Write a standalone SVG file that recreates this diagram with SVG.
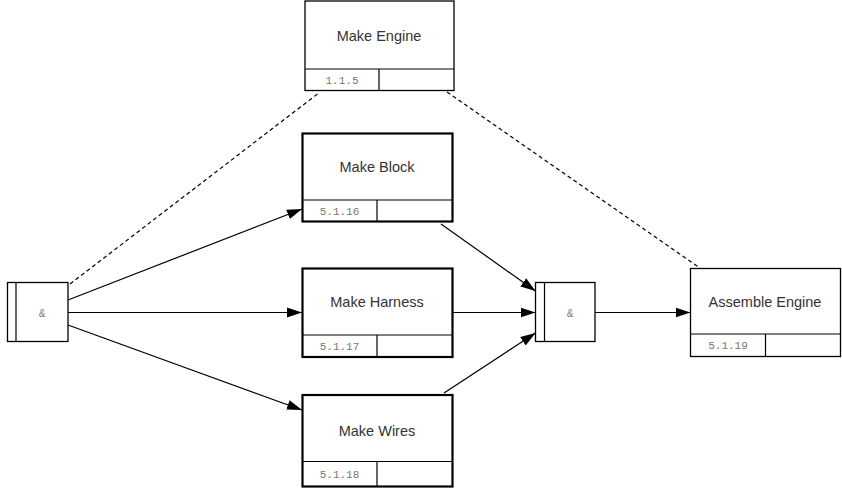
<svg xmlns="http://www.w3.org/2000/svg" width="842" height="488" viewBox="0 0 842 488">
<defs>
<marker id="arr" viewBox="0 0 15 12" refX="15" refY="6" markerWidth="15" markerHeight="12" markerUnits="userSpaceOnUse" orient="auto">
<path d="M0,1 L15,6 L0,11 Z" fill="#000"/>
</marker>
</defs>
<style>
.box{fill:#fff;stroke:#000;stroke-width:1.3}
.thick{stroke-width:2.2}
.lbl{font-family:"Liberation Sans",Arial,sans-serif;font-size:14.5px;fill:#333;text-anchor:middle}
.num{font-family:"Liberation Mono","Courier New",monospace;font-size:11px;fill:#777;text-anchor:middle}
.amp{font-family:"Liberation Sans",Arial,sans-serif;font-size:10px;fill:#777;text-anchor:middle}
.c{stroke:#000;stroke-width:1.2;fill:none}
.d{stroke:#000;stroke-width:1.2;fill:none;stroke-dasharray:4 3}
</style>
<rect width="842" height="488" fill="#fff"/>
<g id="connectors">
<line class="d" x1="70" y1="284" x2="320" y2="92"/>
<line class="d" x1="447" y1="92" x2="700" y2="268"/>
<line class="c" x1="68" y1="300" x2="302" y2="209" marker-end="url(#arr)"/>
<line class="c" x1="68" y1="312.5" x2="302" y2="312.5" marker-end="url(#arr)"/>
<line class="c" x1="68" y1="325" x2="302" y2="410" marker-end="url(#arr)"/>
<line class="c" x1="441" y1="224" x2="535.5" y2="291" marker-end="url(#arr)"/>
<line class="c" x1="452" y1="312.5" x2="535.5" y2="312.5" marker-end="url(#arr)"/>
<line class="c" x1="444" y1="393" x2="535.5" y2="333" marker-end="url(#arr)"/>
<line class="c" x1="595" y1="312.5" x2="690.5" y2="312.5" marker-end="url(#arr)"/>
</g>
<g id="make-engine">
<rect class="box" x="305" y="1" width="149" height="89.5"/>
<line class="c" x1="305" y1="69" x2="454" y2="69"/>
<line class="c" x1="379" y1="69" x2="379" y2="90.5"/>
<text class="lbl" x="379" y="41">Make Engine</text>
<text class="num" x="342" y="84">1.1.5</text>
</g>
<g id="make-block">
<rect class="box thick" x="302.5" y="133.5" width="150" height="88"/>
<line class="c thick" x1="302.5" y1="200" x2="452.5" y2="200"/>
<line class="c thick" x1="377" y1="200" x2="377" y2="221.5"/>
<text class="lbl" x="377" y="172">Make Block</text>
<text class="num" x="339.5" y="215">5.1.16</text>
</g>
<g id="make-harness">
<rect class="box thick" x="302.5" y="268.5" width="150" height="88.5"/>
<line class="c thick" x1="302.5" y1="335" x2="452.5" y2="335"/>
<line class="c thick" x1="377" y1="335" x2="377" y2="357"/>
<text class="lbl" x="377" y="307">Make Harness</text>
<text class="num" x="339.5" y="350">5.1.17</text>
</g>
<g id="make-wires">
<rect class="box thick" x="302.5" y="395" width="150" height="91.5"/>
<line class="c thick" x1="302.5" y1="461.5" x2="452.5" y2="461.5"/>
<line class="c thick" x1="377" y1="461.5" x2="377" y2="486.5"/>
<text class="lbl" x="377" y="436">Make Wires</text>
<text class="num" x="339.5" y="478">5.1.18</text>
</g>
<g id="and-left">
<rect class="box" x="7.5" y="282.5" width="60.5" height="59"/>
<line class="c" x1="16" y1="282.5" x2="16" y2="341.5"/>
<text class="amp" x="42" y="317">&amp;</text>
</g>
<g id="and-right">
<rect class="box" x="535.5" y="282.5" width="59.5" height="59"/>
<line class="c" x1="544.5" y1="282.5" x2="544.5" y2="341.5"/>
<text class="amp" x="570" y="317">&amp;</text>
</g>
<g id="assemble-engine">
<rect class="box" x="690.5" y="268.5" width="150" height="88"/>
<line class="c" x1="690.5" y1="334" x2="840.5" y2="334"/>
<line class="c" x1="765.5" y1="334" x2="765.5" y2="356.5"/>
<text class="lbl" x="765" y="307">Assemble Engine</text>
<text class="num" x="728" y="349">5.1.19</text>
</g>
</svg>
